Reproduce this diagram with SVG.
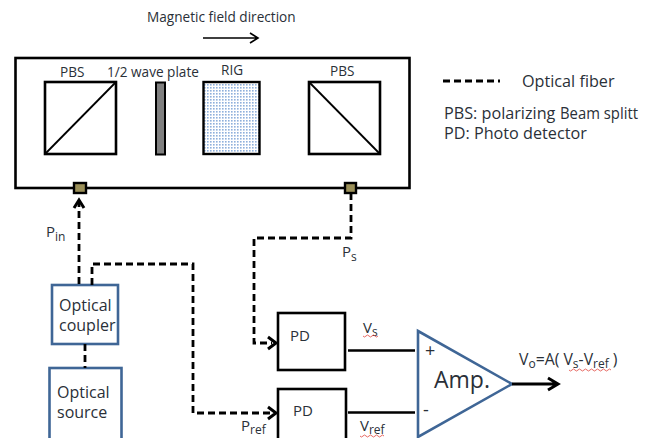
<svg xmlns="http://www.w3.org/2000/svg" width="655" height="438" viewBox="0 0 655 438">
<style>
text{font-family:"Open Sans","Noto Sans","Liberation Sans",sans-serif;fill:#2a3038;font-size:15px}
.s{font-size:12px}
.k{fill:none;stroke:#000;stroke-width:2.6}
.b{fill:#fff;stroke:#3f6696;stroke-width:2.6}
.d{fill:none;stroke:#000;stroke-width:2.8;stroke-dasharray:7 4}
.h{fill:none;stroke:#000;stroke-width:3}
.w{fill:none;stroke:#e0443c;stroke-width:.8}
.p{fill:#9a8f58;stroke:#000;stroke-width:2.4}
.t{font-size:13.600px}
.l{font-size:16.200px}
.c{font-size:16px}
</style>
<defs>
<pattern id="dots" width="3" height="3" patternUnits="userSpaceOnUse"><rect width="3" height="3" fill="#fff"/><rect width="1.6" height="1.6" fill="#8fb0dc"/></pattern>
</defs>
<g id="field-label"><text x="147" y="22" class="t">Magnetic field direction</text><path class="h" style="stroke-width:1.600" d="M203 38H257M250 33L258 38L250 43"/></g>
<g id="housing"><rect class="k" x="15.500" y="58" width="394" height="130"/></g>
<g id="pbs-left"><text x="60" y="77" class="t">PBS</text><rect class="k" x="45" y="82" width="71" height="72"/><path class="k" style="stroke-width:1.800" d="M45 154L116 82"/></g>
<g id="wave-plate"><text x="107" y="77" class="t">1/2 wave plate</text><rect x="156" y="82.500" width="9" height="72" fill="#808080" stroke="#000" stroke-width="2"/></g>
<g id="rig"><text x="221" y="75" class="t">RIG</text><rect x="203.500" y="82" width="56" height="72" fill="url(#dots)" stroke="#000" stroke-width="2.400"/></g>
<g id="pbs-right"><text x="330" y="76" class="t">PBS</text><rect class="k" x="309" y="82" width="71" height="72"/><path class="k" style="stroke-width:1.800" d="M309 82L380 154"/></g>
<g id="port-in"><rect class="p" x="74" y="183" width="12" height="10"/></g>
<g id="port-out"><rect class="p" x="345" y="183" width="11" height="10"/></g>
<g id="legend"><path class="d" d="M443 81H500"/><text x="522" y="87" class="l">Optical fiber</text><text x="444" y="119" class="l">PBS: polarizing</text><text x="560" y="119" class="l" textLength="78" lengthAdjust="spacingAndGlyphs">Beam splitt</text><text x="444" y="139" class="l">PD: Photo detector</text></g>
<g id="coupler"><rect class="b" x="52" y="285" width="66" height="59"/><text x="59" y="311" class="c">Optical</text><text x="59" y="331" class="c">coupler</text></g>
<g id="source"><rect class="b" x="49.500" y="368" width="72" height="72"/><text x="57" y="398" class="c">Optical</text><text x="57" y="418" class="c">source</text></g>
<g id="pd-s"><rect class="k" x="278" y="313" width="67" height="57"/><text x="290" y="341">PD</text></g>
<g id="pd-ref"><rect class="k" x="278" y="389" width="68" height="55"/><text x="293" y="416">PD</text></g>
<g id="amp"><path class="b" d="M418 331L512 384L418 437Z"/><text x="434" y="388" style="font-size:23px">Amp.</text><text x="425" y="357" style="font-size:18px">+</text><text x="423" y="416" style="font-size:18px">-</text></g>
<g id="connectors">
<path class="d" d="M79 284V201"/><path class="h" d="M74 208L79 200L84 208"/>
<path class="d" d="M92 285V264H193V413H272"/><path class="h" d="M268 407L276 413L268 419"/>
<path class="d" d="M85 344V368"/>
<path class="d" d="M351 193V238H254V343H272"/><path class="h" d="M268 337L276 343L268 349"/>
<path class="k" d="M348 350.500H415M348 412.500H415"/>
<path class="h" d="M512 384H556M548 378L558 384L548 390"/>
</g>
<g id="labels">
<text x="46" y="237">P<tspan class="s" dy="4">in</tspan></text>
<text x="342" y="257">P<tspan class="s" dy="4">s</tspan></text>
<text x="241" y="431">P<tspan class="s" dy="3">ref</tspan></text>
<text x="363" y="333">V<tspan class="s" dy="3">s</tspan></text>
<text x="360" y="431">V<tspan class="s" dy="3">ref</tspan></text>
<text x="519" y="365" style="font-size:15.800px">V<tspan class="s" dy="3">o</tspan><tspan dy="-3">=A( V</tspan><tspan class="s" dy="3">s</tspan><tspan dy="-3">-V</tspan><tspan class="s" dy="3">ref</tspan><tspan dy="-3"> )</tspan></text>
<path class="w" d="M363 336q1.500 2 3 0t3 0t3 0t3 0t3 0"/>
<path class="w" d="M360 436q1.500 2 3 0t3 0t3 0t3 0t3 0t3 0t3 0t3 0"/>
<path class="w" d="M569 370q1.500 2 3 0t3 0t3 0t3 0t3 0t3 0t3 0t3 0t3 0t3 0t3 0t3 0t3 0t3 0"/>
</g>
</svg>
